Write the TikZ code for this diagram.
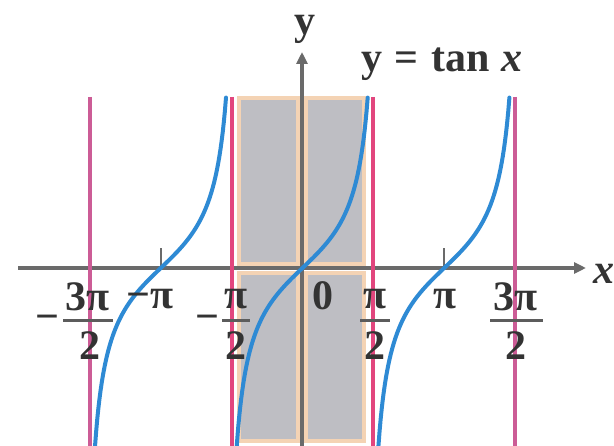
\documentclass[tikz,border=0pt]{standalone}
\usepackage{fontspec}
\setmainfont{Liberation Serif}
\usetikzlibrary{arrows.meta}
\definecolor{axisgray}{HTML}{6A6A6A}
\definecolor{asymout}{HTML}{CC5C96}
\definecolor{asymin}{HTML}{E2467E}
\definecolor{tanblue}{HTML}{2E8AD4}
\definecolor{shade}{HTML}{BEBEC3}
\definecolor{shadeedge}{HTML}{F4D3B4}
\definecolor{txt}{HTML}{333333}
\begin{document}
\begin{tikzpicture}[x=1pt,y=-1pt,
  lbl/.style={font=\fontsize{42}{42}\selectfont\bfseries, inner sep=0pt, anchor=base, text=txt},
  quad/.style={fill=shade, draw=shadeedge, line width=4pt},
  asymo/.style={draw=asymout, line width=3.5pt},
  asymi/.style={draw=asymin, line width=3.5pt},
  axis/.style={draw=axisgray, line width=3.5pt, -{Triangle[length=12pt,width=11pt]}},
  tick/.style={draw=axisgray, line width=2pt},
  fbar/.style={draw=txt!80, line width=3pt},
  curve/.style={draw=tanblue, line width=4pt, line cap=round}]
\useasboundingbox (0,0) rectangle (614,446);
% shaded quadrants
\draw[quad] (239,98) rectangle (298,264);
\draw[quad] (306,98) rectangle (364,264);
\draw[quad] (239,273) rectangle (298,441);
\draw[quad] (306,273) rectangle (364,441);
% axes
\coordinate (xs) at (18,268); \coordinate (xe) at (586,268);
\coordinate (ys) at (302,446); \coordinate (ye) at (302,52);
\draw[axis] (xs) -- (xe);
\draw[axis] (ys) -- (ye);
% ticks
\coordinate (t1a) at (160.8,268); \coordinate (t1b) at (160.8,248);
\coordinate (t2a) at (444.2,268); \coordinate (t2b) at (444.2,248);
\draw[tick] (t1a) -- (t1b);
\draw[tick] (t2a) -- (t2b);
% asymptotes
\coordinate (a1t) at (90,97);   \coordinate (a1b) at (90,446);
\coordinate (a2t) at (232,97);  \coordinate (a2b) at (232,446);
\coordinate (a3t) at (373,97);  \coordinate (a3b) at (373,446);
\coordinate (a4t) at (515,97);  \coordinate (a4b) at (515,446);
\draw[asymo] (a1t) -- (a1b);
\draw[asymi] (a2t) -- (a2b);
\draw[asymi] (a3t) -- (a3b);
\draw[asymo] (a4t) -- (a4b);
% tan branches
\foreach \c in {160.8,302.5,444.2}
  \draw[curve] plot[domain=-1.3076:1.2969, samples=120, variable=\u]
     ({\c+50.3*\u}, {268-48*tan(\u r)});
% labels
\node[lbl] (ylab) at (305,35) {y};
\node[lbl] (eq) at (442,72) {y\hspace{0.3em}=\hspace{0.3em}tan\hspace{0.28em}\textit{x}};
\node[lbl] (xlab) at (604,284) {\textit{x}};
% -3pi/2
\node[lbl] (m1) at (47,331) {−};
\node[lbl] (n1) at (88,311) {3π};
\node[lbl] (d1) at (90,360) {2};
\coordinate (b1l) at (63,321); \coordinate (b1r) at (113,321);
\draw[fbar] (b1l) -- (b1r);
% -pi
\node[lbl] (mpi) at (150,309) {−π};
% -pi/2
\node[lbl] (m2) at (207,331) {−};
\node[lbl] (n2) at (236,309) {π};
\node[lbl] (d2) at (236,360) {2};
\coordinate (b2l) at (222,321); \coordinate (b2r) at (250,321);
\draw[fbar] (b2l) -- (b2r);
% 0
\node[lbl] (zero) at (323,310) {0};
% pi/2
\node[lbl] (n3) at (375,309) {π};
\node[lbl] (d3) at (375,360) {2};
\coordinate (b3l) at (360,321); \coordinate (b3r) at (390,321);
\draw[fbar] (b3l) -- (b3r);
% pi
\node[lbl] (pi) at (445,309) {π};
% 3pi/2
\node[lbl] (n4) at (516,311) {3π};
\node[lbl] (d4) at (516,360) {2};
\coordinate (b4l) at (490,321); \coordinate (b4r) at (543,321);
\draw[fbar] (b4l) -- (b4r);
\end{tikzpicture}
\end{document}
